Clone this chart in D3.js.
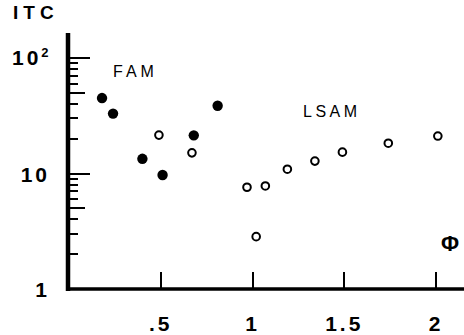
<!DOCTYPE html>
<html>
<head>
<meta charset="utf-8">
<script src="https://cdn.jsdelivr.net/npm/d3@7"></script>
<style>
  body { margin: 0; background: #fff; }
  svg { display: block; font-family: 'Liberation Sans', Arial, sans-serif; }
</style>
</head>
<body>
<svg id="chart" width="464" height="335"></svg>
<script>
// FAM (filled dots)
const famPhi = [0.18, 0.24, 0.40, 0.51, 0.68, 0.81]
const famItc = [45, 33, 13.4, 9.7, 21.4, 38.6]

// LSAM (open circles)
const lsamPhi = [0.49, 0.67, 0.97, 1.02, 1.07, 1.19, 1.34, 1.49, 1.74, 2.01]
const lsamItc = [21.5, 15.1, 7.6, 2.84, 7.8, 10.9, 12.8, 15.3, 18.3, 21.1]

const xTicks = [0.5, 1, 1.5, 2]
const xTickLabels = ['.5', '1', '1.5', '2']
const yMinor = [2, 3, 4, 5, 6, 7, 8, 9, 10, 20, 30, 40, 50, 60, 70, 80, 90, 100]

const svg = d3.select('#chart')
const x = d3.scaleLinear().domain([0, 2]).range([69, 436])
const y = d3.scaleLog().domain([1, 100]).range([289, 58])
const axisX0 = 68

// tick length: long at decades, medium at 5s, short otherwise
const tickLen = d => (d === 10 || d === 100) ? 22 : (d === 5 || d === 50) ? 17 : 10

// y axis ticks (inward)
svg.append('g')
    .attr('class', 'axis axis-y')
  .selectAll('rect')
  .data(yMinor)
  .join('rect')
  .attr('x', axisX0)
  .attr('width', d => tickLen(d))
  .attr('y', d => Math.round(y(d)) - 1)
  .attr('height', 2)
  .attr('fill', '#000')

// y labels
const yLab = svg.append('g')
    .attr('font-weight', 'bold')
    .attr('font-size', 21)
    .attr('letter-spacing', 3)
    .attr('text-anchor', 'end')
yLab.append('text').attr('x', 50).attr('y', y(1) + 8).text('1')
yLab.append('text').attr('x', 50).attr('y', y(10) + 8).text('10')
let hundred = svg.append('text')
    .attr('x', 12).attr('y', y(100) + 7)
    .attr('font-weight', 'bold')
    .attr('font-size', 21)
    .attr('letter-spacing', 3)
hundred.append('tspan').text('10')
hundred.append('tspan')
  .attr('font-size', 13)
  .attr('dy', -8)
  .attr('letter-spacing', 0)
  .text('2')

svg.append('text')
  .attr('x', 13).attr('y', 19)
  .attr('font-weight', 'bold')
  .attr('font-size', 19)
  .attr('letter-spacing', 5)
  .text('ITC')

// x axis ticks (inward) and labels
let xG = svg.append('g').attr('class', 'axis axis-x')
xG.selectAll('rect')
  .data(xTicks)
  .join('rect')
  .attr('x', d => Math.round(x(d)) - 1)
  .attr('width', 2)
  .attr('y', y(1) - 17)
  .attr('height', 17)
  .attr('fill', '#000')
xG.selectAll('text')
  .data(xTicks)
  .join('text')
  .attr('x', d => x(d))
  .attr('y', y(1) + 42)
  .attr('text-anchor', 'middle')
  .attr('font-size', 21)
  .attr('font-weight', 'bold')
  .attr('letter-spacing', 3)
  .text((d, i) => xTickLabels[i])

// axis lines
svg.append('line')
  .attr('x1', axisX0).attr('x2', axisX0)
  .attr('y1', y(1) + 2).attr('y2', 33)
  .attr('stroke', '#000').attr('stroke-width', 4.5)
svg.append('line')
  .attr('x1', axisX0 - 2).attr('x2', 464)
  .attr('y1', y(1)).attr('y2', y(1))
  .attr('stroke', '#000').attr('stroke-width', 3.5)

// points
svg.append('g').selectAll('circle')
  .data(famPhi)
  .join('circle')
  .attr('cx', d => x(d))
  .attr('cy', (d, i) => y(famItc[i]))
  .attr('r', 5.2)
  .attr('fill', '#000')

svg.append('g').selectAll('circle')
  .data(lsamPhi)
  .join('circle')
  .attr('cx', d => x(d))
  .attr('cy', (d, i) => y(lsamItc[i]))
  .attr('r', 3.8)
  .attr('fill', '#fff')
  .attr('stroke', '#000')
  .attr('stroke-width', 2)

// series labels
svg.append('text')
  .attr('x', 113).attr('y', 77)
  .attr('font-size', 16)
  .attr('letter-spacing', 4)
  .text('FAM')
svg.append('text')
  .attr('x', 303).attr('y', 117)
  .attr('font-size', 16)
  .attr('letter-spacing', 3.5)
  .text('LSAM')
svg.append('text')
  .attr('x', 441).attr('y', 251)
  .attr('font-size', 22)
  .attr('font-weight', 'bold')
  .text('Φ')
</script>
</body>
</html>
